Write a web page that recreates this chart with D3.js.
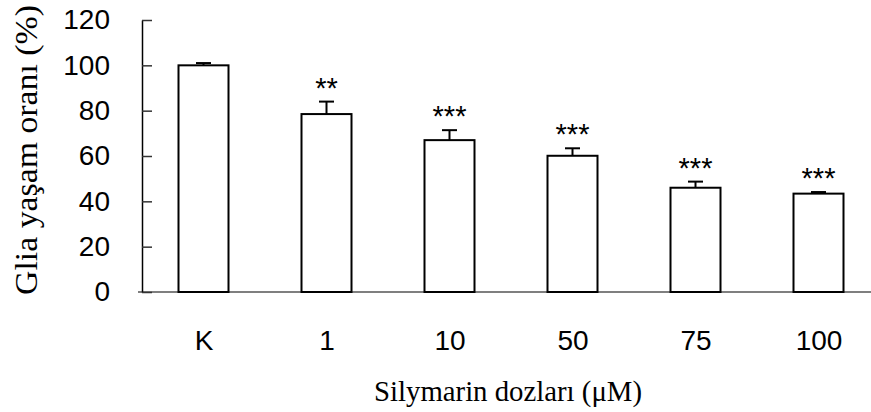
<!DOCTYPE html>
<meta charset="utf-8">
<style>
  body { margin: 0; background: #fff; }
  svg { display: block; }
  .tick text, .stars { font-family: "Liberation Sans", Arial, sans-serif; }
  .axis-title { font-family: "Liberation Serif", "Times New Roman", serif; }
</style>
<body>
<script src="https://d3js.org/d3.v7.min.js"></script>
<script>

// data
var doses = ["K", "1", "10", "50", "75", "100"];
var survival = [100, 78.5, 67, 60.1, 46, 43.4];
var sem = [1.0, 5.5, 4.4, 3.3, 2.7, 0.7];
var stars = ["", "**", "***", "***", "***", "***"];
var yTicks = [0, 20, 40, 60, 80, 100, 120];

var width = 871, height = 412;

var svg = d3.select("body").append("svg")
    .attr("width", width)
    .attr("height", height);

// scales
var x = d3.scalePoint().domain(doses).range([142, 880]).padding(0.5);
var y = d3.scaleLinear().domain([0, 120]).range([292, 20]);
var barW = 50;

// x axis (baseline only, labels under it)
var xAxis = svg.append("g")
    .attr("transform", "translate(0," + y(0) + ")")
    .call(d3.axisBottom(x).tickSize(0).tickPadding(38));
xAxis.select(".domain").attr("stroke", "#555").attr("stroke-width", 1.5)
    .attr("d", "M138,0H880");
xAxis.selectAll(".tick text").attr("font-size", 28).attr("fill", "#000");

// y axis with inward ticks
var yAxis = svg.append("g")
    .attr("transform", "translate(142,0)")
    .call(d3.axisLeft(y).tickValues(yTicks).tickSizeInner(-10).tickSizeOuter(0).tickPadding(32));
yAxis.select(".domain").attr("stroke", "#000").attr("stroke-width", 1.5);
yAxis.selectAll(".tick line").attr("stroke", "#333").attr("stroke-width", 1.5);
yAxis.selectAll(".tick text").attr("font-size", 28).attr("fill", "#000");

var rows = doses.map(function(d, i) {
  return {dose: d, v: survival[i], e: sem[i], s: stars[i]};
});

// error bars (upper only)
var err = svg.append("g").selectAll("g")
  .data(rows).enter().append("g")
    .attr("stroke", "#000").attr("stroke-width", 2);
err.append("line")
    .attr("x1", function(d) { return x(d.dose); })
    .attr("x2", function(d) { return x(d.dose); })
    .attr("y1", function(d) { return y(d.v); })
    .attr("y2", function(d) { return y(d.v + d.e); });
err.append("line")
    .attr("x1", function(d) { return x(d.dose) - 7.5; })
    .attr("x2", function(d) { return x(d.dose) + 7.5; })
    .attr("y1", function(d) { return y(d.v + d.e); })
    .attr("y2", function(d) { return y(d.v + d.e); });

// bars
svg.append("g").selectAll("rect")
  .data(rows).enter().append("rect")
    .attr("x", function(d) { return x(d.dose) - barW / 2; })
    .attr("y", function(d) { return y(d.v); })
    .attr("width", barW)
    .attr("height", function(d) { return y(0) - y(d.v); })
    .attr("fill", "#fff")
    .attr("stroke", "#000")
    .attr("stroke-width", 2);

// significance stars
svg.append("g").selectAll("text")
  .data(rows).enter().append("text")
    .attr("class", "stars")
    .attr("x", function(d) { return x(d.dose); })
    .attr("y", function(d) { return y(d.v + d.e) - 4; })
    .attr("text-anchor", "middle")
    .attr("font-size", 29)
    .text(function(d) { return d.s; });

// axis titles
svg.append("text")
    .attr("class", "axis-title")
    .attr("x", 508)
    .attr("y", 401)
    .attr("text-anchor", "middle")
    .attr("font-size", 28.5)
    .attr("textLength", 268)
    .attr("lengthAdjust", "spacingAndGlyphs")
    .text("Silymarin dozları (μM)");

svg.append("text")
    .attr("class", "axis-title")
    .attr("transform", "translate(37,150) rotate(-90)")
    .attr("text-anchor", "middle")
    .attr("font-size", 31)
    .attr("textLength", 290)
    .attr("lengthAdjust", "spacingAndGlyphs")
    .text("Glia yaşam oranı (%)");

</script>
</body>
